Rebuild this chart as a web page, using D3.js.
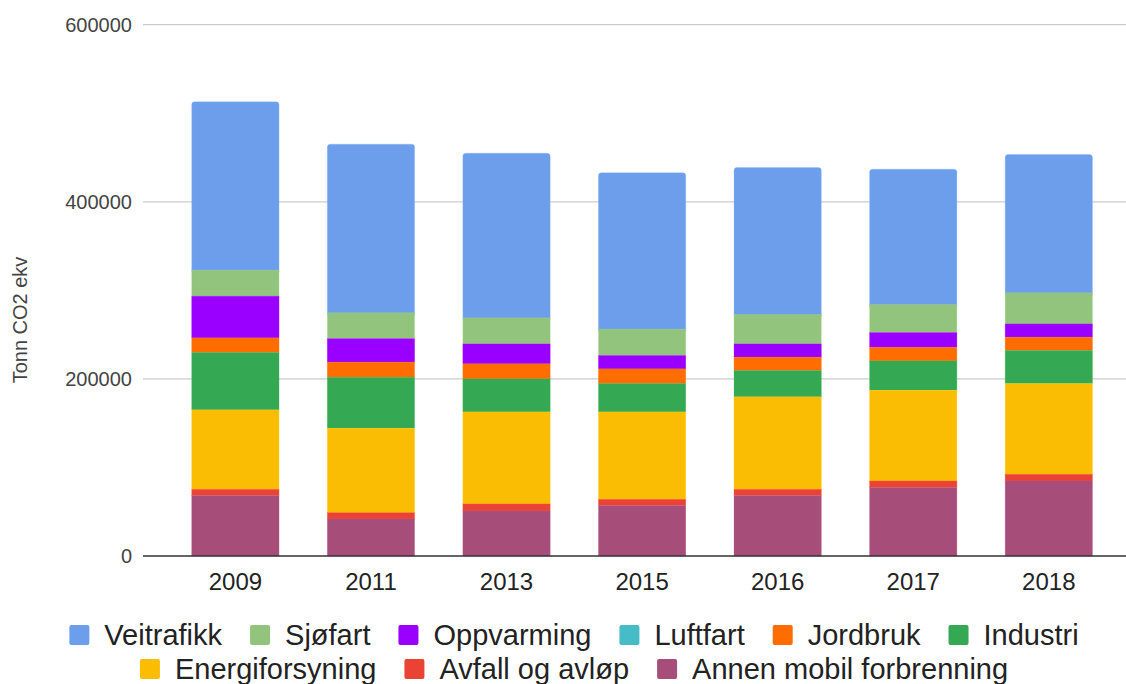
<!DOCTYPE html>
<html lang="no">
<head>
<meta charset="UTF-8">
<title>Utslipp per sektor</title>
<script src="https://d3js.org/d3.v7.min.js"></script>
<style>
    body { margin: 0; background: #fff; }
    svg { display: block; font-family: Arial, "Liberation Sans", sans-serif; }
    .ylab { font-size: 20px; fill: #444; }
    .xlab { font-size: 24px; fill: #222; }
    .legend text { font-size: 29px; fill: #222; }
</style>
</head>
<body>
<svg id="chart" width="1126" height="684"></svg>
<script>
// years on the x axis
const years = ["2009", "2011", "2013", "2015", "2016", "2017", "2018"];

// series, listed top of the stack first (legend order)
const seriesNames = ["Veitrafikk", "Sjøfart", "Oppvarming", "Luftfart", "Jordbruk",
    "Industri", "Energiforsyning", "Avfall og avløp", "Annen mobil forbrenning"];
const seriesColors = ["#6d9eeb", "#93c47d", "#9900ff", "#46bdc6", "#ff6d01",
    "#34a853", "#fbbc04", "#ea4335", "#a64d79"];

const veitrafikk = [190100, 190500, 186000, 176600, 166000, 152900, 156300];
const sjofart    = [29400, 29200, 29400, 29800, 33200, 31700, 35100];
const oppvarming = [47100, 26500, 22500, 15100, 15000, 16700, 15000];
const luftfart   = [0, 0, 0, 0, 0, 0, 0];
const jordbruk   = [16500, 17000, 17000, 16600, 15100, 15300, 15100];
const industri   = [64800, 57600, 37300, 32000, 29700, 33100, 37300];
const energi     = [89700, 95400, 103900, 98700, 104400, 102500, 102400];
const avfall     = [7100, 7100, 8000, 7100, 7100, 7500, 7600];
const annen      = [68200, 41800, 50800, 56900, 68200, 77200, 84700];

const yTicks = [0, 200000, 400000, 600000];
const yTitle = "Tonn CO2 ekv";

const seriesValues = [veitrafikk, sjofart, oppvarming, luftfart, jordbruk,
    industri, energi, avfall, annen];

// table for d3.stack
const table = years.map((yr, i) => {
    const row = { year: yr };
    seriesNames.forEach((n, j) => row[n] = seriesValues[j][i]);
    return row;
});

const plotLeft = 143, plotRight = 1126, plotTop = 24.7, plotBottom = 556;

const svg = d3.select("#chart");

const x = d3.scaleBand()
    .domain(years)
    .range([plotLeft + 24.6, 1116.6])
    .paddingInner(0.356)
    .paddingOuter(0.178);

const y = d3.scaleLinear()
    .domain([0, 600000])
    .range([plotBottom, plotTop]);

// gridlines
svg.append("g")
    .selectAll("line")
    .data(yTicks.filter(t => t > 0))
    .join("line")
    .attr("x1", plotLeft).attr("x2", plotRight)
    .attr("y1", d => y(d)).attr("y2", d => y(d))
    .attr("stroke", "#cccccc").attr("stroke-width", 1.2);

// y labels
svg.append("g")
    .selectAll("text")
    .data(yTicks)
    .join("text")
    .attr("class", "ylab")
    .attr("x", 132)
    .attr("y", d => y(d))
    .attr("dy", "0.36em")
    .attr("text-anchor", "end")
    .text(d => d);

// stacked bars, bottom series first in stack
const stackKeys = seriesNames.slice().reverse();
const stacked = d3.stack().keys(stackKeys)(table);
const color = d3.scaleOrdinal().domain(seriesNames).range(seriesColors);

// draw top series first so its rounded bottom is covered by the next one
const drawOrder = stacked.slice().reverse();
drawOrder.forEach(layer => {
    const isTop = layer.key === seriesNames[0];
    svg.append("g")
        .selectAll("rect")
        .data(layer)
        .join("rect")
        .attr("x", d => x(d.data.year))
        .attr("width", x.bandwidth())
        .attr("y", d => y(d[1]))
        .attr("height", d => Math.max(0, y(d[0]) - y(d[1]) + (isTop ? 4 : 0)))
        .attr("rx", isTop ? 3 : 0)
        .attr("fill", color(layer.key))
        .attr("stroke", d3.color(color(layer.key)).brighter(0.4))
        .attr("stroke-opacity", 0.5)
        .attr("stroke-width", 0.6);
});

// baseline
svg.append("line")
    .attr("x1", plotLeft).attr("x2", plotRight)
    .attr("y1", y(0)).attr("y2", y(0))
    .attr("stroke", "#333").attr("stroke-width", 1.6);

// x labels
svg.append("g")
    .selectAll("text")
    .data(years)
    .join("text")
    .attr("class", "xlab")
    .attr("x", d => x(d) + x.bandwidth() / 2)
    .attr("y", 589.5)
    .attr("text-anchor", "middle")
    .text(d => d);

// y title
svg.append("text")
    .attr("class", "ylab")
    .attr("transform", "translate(27,320) rotate(-90)")
    .attr("text-anchor", "middle")
    .attr("fill", "#222")
    .text(yTitle);

// legend, wrapped into centred rows
const legend = svg.append("g").attr("class", "legend");
const box = 20, gapText = 15, gapItem = 28, maxRow = 1070, legendCenter = 574;
const items = seriesNames.map((name, i) => {
    const g = legend.append("g");
    g.append("rect").attr("width", box).attr("height", box).attr("rx", 2)
        .attr("fill", seriesColors[i]);
    const t = g.append("text").attr("x", box + gapText).attr("y", box / 2)
        .attr("dy", "0.36em").text(name);
    return { g, w: box + gapText + t.node().getComputedTextLength() };
});
const rows = [[]];
let rowW = 0;
items.forEach(it => {
    const add = (rows[rows.length - 1].length ? gapItem : 0) + it.w;
    if (rowW + add > maxRow) { rows.push([it]); rowW = it.w; }
    else { rows[rows.length - 1].push(it); rowW += add; }
});
rows.forEach((row, r) => {
    const total = d3.sum(row, d => d.w) + gapItem * (row.length - 1);
    let cx = legendCenter - total / 2;
    row.forEach(it => {
        it.g.attr("transform", `translate(${cx},${625 + r * 34})`);
        cx += it.w + gapItem;
    });
});
</script>
</body>
</html>
